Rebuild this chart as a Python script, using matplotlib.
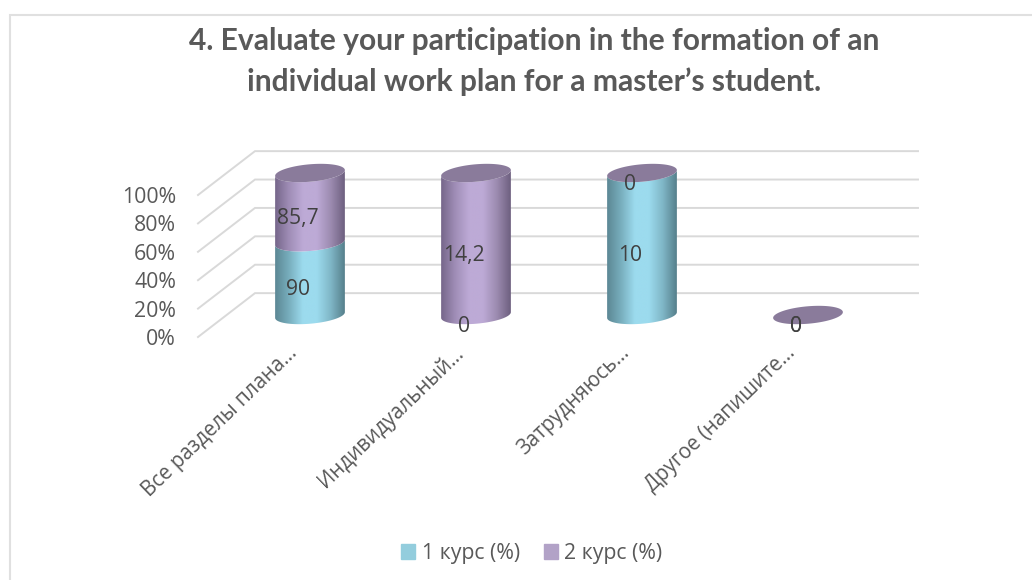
import numpy as np
import matplotlib
matplotlib.use('Agg')
import matplotlib.pyplot as plt
from matplotlib.colors import LinearSegmentedColormap
from matplotlib.patches import Patch, Polygon

categories = ['Все разделы плана…', 'Индивидуальный…', 'Затрудняюсь…', 'Другое (напишите…']
course_1 = [90, 0, 10, 0]
course_2 = [85.7, 14.2, 0, 0]
value_labels_1 = ['90', '0', '10', '0']
value_labels_2 = ['85,7', '14,2', '0', '0']
percent_ticks = [0, 20, 40, 60, 80, 100]
percent_labels = ['0%', '20%', '40%', '60%', '80%', '100%']
series_names = ['1 курс (%)', '2 курс (%)']
title = '4. Evaluate your participation in the formation of an\nindividual work plan for a master’s student.'

plt.rcParams['font.family'] = ['Open Sans', 'DejaVu Sans']
TEXT = '#595959'
W, H = 1032, 580

# pixels per unit of the axes
PX_X = 166.0
PX_Y = 1.42
X0_PX = 310.0
Y0_PX = 315.0
A, B, TILT = 35.0, 8.7, np.radians(5)

teal = LinearSegmentedColormap.from_list('teal', ['#5c8794', '#78aebd', '#9cdbee', '#9cdbee', '#7fb6c6', '#557f8b'])
purple = LinearSegmentedColormap.from_list('purple', ['#75668a', '#9f8db6', '#bdaad6', '#bdaad6', '#9c8bb0', '#6d5f7f'])
TOP_COLOR = '#8a7b9b'


def ellipse(cx, v, t):
    dx = A * np.cos(t) * np.cos(TILT) - B * np.sin(t) * np.sin(TILT)
    dy = A * np.cos(t) * np.sin(TILT) + B * np.sin(t) * np.cos(TILT)
    return np.column_stack([cx + dx / PX_X, v + dy / PX_Y])


fig = plt.figure(figsize=(W / 100, H / 100), dpi=100)
# frame of the chart, only top and left are inside the picture
fig.add_artist(plt.Line2D([9.5 / W, 9.5 / W, 1], [0, 1 - 15 / H, 1 - 15 / H], transform=fig.transFigure,
                          color='#e0e0e0', lw=1.5, solid_joinstyle='miter'))

left, right, top, bottom = 190, 930, 120, 340
ax = fig.add_axes([left / W, 1 - bottom / H, (right - left) / W, (bottom - top) / H])
xlim = ((left - X0_PX) / PX_X, (right - X0_PX) / PX_X)
ylim = ((Y0_PX - bottom) / PX_Y, (Y0_PX - top) / PX_Y)

# walls of the 3d box
front_x, back_x, end_x = (198 - X0_PX) / PX_X, (255 - X0_PX) / PX_X, (918 - X0_PX) / PX_X
depth_front, depth_back = -15.5, 15.4
for p in percent_ticks:
    ax.plot([front_x, back_x, end_x], [p + depth_front, p + depth_back, p + depth_back],
            color='#d9d9d9', lw=1.4, zorder=1, solid_joinstyle='miter', clip_on=False)

t_front = np.linspace(np.pi, 2 * np.pi, 60)
t_all = np.linspace(0, 2 * np.pi, 120)
for i in range(len(categories)):
    total = course_1[i] + course_2[i]
    h1 = 100 * course_1[i] / total if total else 0
    h2 = 100 * course_2[i] / total if total else 0
    z = 3 + i
    for v0, v1, cmap in [(0, h1, teal), (h1, h1 + h2, purple)]:
        if v1 <= v0:
            continue
        body = np.vstack([ellipse(i, v0, t_front), ellipse(i, v1, t_front[::-1])])
        im = ax.imshow(np.linspace(0, 1, 256).reshape(1, -1), cmap=cmap, aspect='auto', interpolation='bilinear',
                       extent=(i - A / PX_X, i + A / PX_X, v0 - 12, v1 + 12), zorder=z)
        im.set_clip_path(Polygon(body, transform=ax.transData))
    ax.add_patch(Polygon(ellipse(i, h1 + h2, t_all), closed=True, facecolor=TOP_COLOR, edgecolor='none', zorder=z + 0.5))
    lx = i - 12 / PX_X
    for mid, lab in [(h1 / 2, value_labels_1[i]), (h1 + h2 / 2, value_labels_2[i])]:
        ax.text(lx, mid - 8, lab, ha='center', va='center', fontsize=15.2, color='#404040', zorder=20)

ax.set_xlim(xlim)
ax.set_ylim(ylim)
# labels end a little left of the cylinder centre
ax.set_xticks([i - 23 / PX_X for i in range(len(categories))])
ax.set_xticklabels(categories, rotation=44, ha='right', rotation_mode='anchor', fontsize=14.8, color=TEXT)
ax.set_yticks([p + depth_front for p in percent_ticks])
ax.set_yticklabels(percent_labels, fontsize=15.3, color=TEXT)
ax.tick_params(axis='x', length=0, pad=1.5)
ax.tick_params(axis='y', length=0, pad=10)
for s in ax.spines.values():
    s.set_visible(False)

fig.text(534 / W, 1 - 61.5 / H, title, ha='center', va='center', fontsize=21.6, fontweight='bold',
         family=['Lato', 'DejaVu Sans'], color=TEXT, linespacing=1.5)

handles = [Patch(color='#93cddd'), Patch(color='#b2a2c7')]
fig.legend(handles, series_names, loc='center', bbox_to_anchor=(532 / W, 1 - 553.5 / H), ncol=2, frameon=False,
           fontsize=15.3, labelcolor=TEXT, handlelength=0.66, handleheight=0.66, handletextpad=0.3, columnspacing=1.13,
           borderpad=0, borderaxespad=0)

fig.savefig('out.png', dpi=100)
